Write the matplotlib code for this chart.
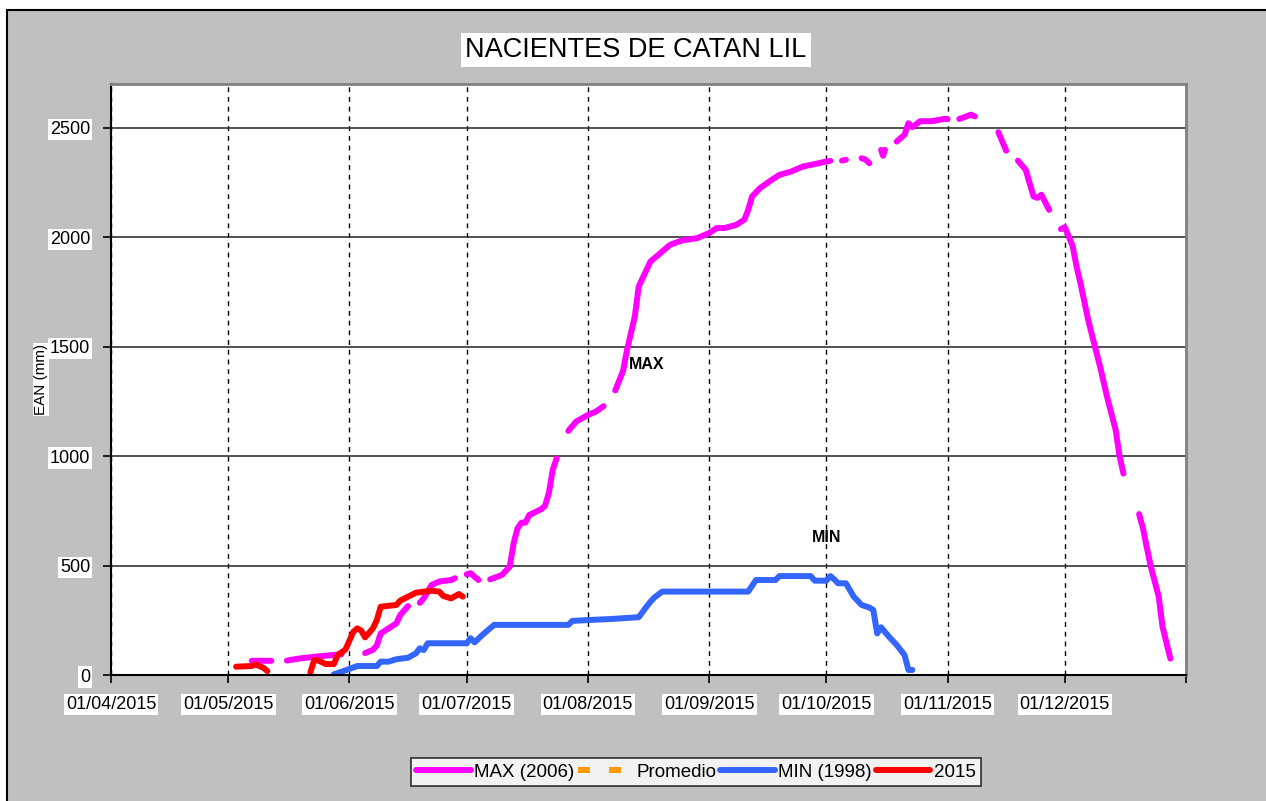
import numpy as np
import pandas as pd
import matplotlib
matplotlib.use('Agg')
import matplotlib.pyplot as plt
from matplotlib.patches import Rectangle

nan = np.nan

# MAX (2006) - gaps (nan) are missing days in the record
max_dates = ['2015-05-07', '2015-05-12', '2015-05-14', '2015-05-16', '2015-05-19', '2015-05-24', '2015-05-30', '2015-06-01',
             '2015-06-05', '2015-06-07', '2015-06-08', '2015-06-09', '2015-06-11', '2015-06-13', '2015-06-14', '2015-06-16', '2015-06-17',
             '2015-06-19', '2015-06-20', '2015-06-22', '2015-06-24', '2015-06-27', '2015-06-28', '2015-06-29',
             '2015-07-01', '2015-07-02', '2015-07-03', '2015-07-04', '2015-07-05',
             '2015-07-07', '2015-07-10', '2015-07-12', '2015-07-13', '2015-07-14', '2015-07-15', '2015-07-16', '2015-07-17',
             '2015-07-20', '2015-07-21', '2015-07-22', '2015-07-23', '2015-07-24', '2015-07-25',
             '2015-07-27', '2015-07-29', '2015-08-01', '2015-08-03', '2015-08-05', '2015-08-06',
             '2015-08-08', '2015-08-10', '2015-08-11', '2015-08-13', '2015-08-14', '2015-08-16', '2015-08-17', '2015-08-20',
             '2015-08-22', '2015-08-25', '2015-08-29', '2015-09-01', '2015-09-03', '2015-09-05', '2015-09-08', '2015-09-10',
             '2015-09-11', '2015-09-12', '2015-09-14', '2015-09-17', '2015-09-19', '2015-09-22', '2015-09-25', '2015-09-28',
             '2015-10-01', '2015-10-02', '2015-10-03',
             '2015-10-05', '2015-10-06', '2015-10-07',
             '2015-10-10', '2015-10-11', '2015-10-12', '2015-10-13',
             '2015-10-15 00:00', '2015-10-15 12:00', '2015-10-16 00:00', '2015-10-17',
             '2015-10-19', '2015-10-21', '2015-10-22', '2015-10-23', '2015-10-25', '2015-10-28', '2015-10-31', '2015-11-01', '2015-11-02',
             '2015-11-04', '2015-11-07', '2015-11-08', '2015-11-10',
             '2015-11-14', '2015-11-16', '2015-11-17',
             '2015-11-19', '2015-11-21', '2015-11-22', '2015-11-23', '2015-11-24', '2015-11-25', '2015-11-26', '2015-11-27', '2015-11-28',
             '2015-11-30', '2015-12-01', '2015-12-03', '2015-12-04', '2015-12-05', '2015-12-07', '2015-12-10', '2015-12-12',
             '2015-12-14', '2015-12-15', '2015-12-16', '2015-12-17',
             '2015-12-20', '2015-12-21', '2015-12-22', '2015-12-23', '2015-12-25', '2015-12-26', '2015-12-28']
max_vals = [65, 65, nan, 66, 75, 85, 95, nan,
            100, 115, 135, 190, 213, 236, 274, 315, nan,
            330, 350, 411, 427, 434, 442, nan,
            460, 465, 449, 434, nan,
            437, 457, 495, 602, 670, 696, 696, 731, 757, 772, 830, 937, 990, nan,
            1115, 1158, 1188, 1203, 1228, nan,
            1300, 1390, 1485, 1638, 1775, 1851, 1889, 1935, 1965, 1985, 1996, 2019, 2042, 2042, 2057, 2080,
            2125, 2186, 2224, 2262, 2285, 2300, 2323, 2334, 2346, 2349, nan,
            2350, 2354, nan,
            2361, 2355, 2338, nan,
            2399, 2372, 2399, nan,
            2437, 2468, 2521, 2503, 2530, 2530, 2540, 2540, nan,
            2540, 2560, 2552, nan,
            2480, 2395, nan,
            2350, 2308, 2247, 2186, 2180, 2194, 2160, 2125, nan,
            2037, 2046, 1960, 1866, 1790, 1620, 1410, 1257, 1120, 1000, 920, nan,
            735, 670, 580, 495, 360, 220, 75]

# MIN (1998)
min_dates = ['2015-05-28', '2015-05-30', '2015-06-03', '2015-06-08', '2015-06-09', '2015-06-11', '2015-06-13', '2015-06-16',
             '2015-06-18', '2015-06-19', '2015-06-20', '2015-06-21', '2015-07-01', '2015-07-02', '2015-07-03', '2015-07-05',
             '2015-07-08', '2015-07-27', '2015-07-28', '2015-08-01', '2015-08-07', '2015-08-14', '2015-08-16', '2015-08-17',
             '2015-08-18', '2015-08-20', '2015-09-11', '2015-09-13', '2015-09-18', '2015-09-19', '2015-09-27', '2015-09-28',
             '2015-10-01', '2015-10-02', '2015-10-03', '2015-10-04', '2015-10-06', '2015-10-08', '2015-10-10', '2015-10-12',
             '2015-10-13', '2015-10-14', '2015-10-15', '2015-10-17', '2015-10-19', '2015-10-21', '2015-10-22', '2015-10-23']
min_vals = [3, 15, 41, 41, 61, 61, 72, 79, 99, 122, 114, 145, 145, 168, 149, 183,
            229, 229, 247, 251, 256, 264, 312, 335, 354, 381, 381, 434, 434, 452, 452, 431,
            431, 452, 437, 419, 419, 358, 320, 308, 297, 190, 218, 175, 137, 91, 23, 23]

# 2015
y15_dates = ['2015-05-03', '2015-05-07', '2015-05-08', '2015-05-10', '2015-05-11', '2015-05-16', '2015-05-22', '2015-05-23',
             '2015-05-24', '2015-05-26', '2015-05-28', '2015-05-29', '2015-05-31', '2015-06-02', '2015-06-03', '2015-06-04',
             '2015-06-05', '2015-06-07', '2015-06-08', '2015-06-09', '2015-06-13', '2015-06-14', '2015-06-16', '2015-06-18',
             '2015-06-22', '2015-06-24', '2015-06-25', '2015-06-27', '2015-06-29', '2015-06-30']
y15_vals = [38, 41, 48, 33, 18, nan, 12, 69, 66, 50, 50, 91, 117, 198, 213, 203,
            172, 213, 251, 312, 320, 340, 358, 376, 385, 381, 361, 350, 370, 358]

y_ticks = [0, 500, 1000, 1500, 2000, 2500]

plt.rcParams['font.family'] = ['Liberation Sans', 'DejaVu Sans']

W, H = 1266, 801
fig = plt.figure(figsize=(W / 100, H / 100), dpi=100, facecolor='white')
fig.patches.append(Rectangle((7 / W, -0.01), 1.05, 1 - 10 / H + 0.01, transform=fig.transFigure,
                             facecolor='#C0C0C0', edgecolor='black', lw=1.5, zorder=-10))

ax = fig.add_axes([111 / W, 1 - 675 / H, (1186 - 111) / W, (675 - 84) / H])
ax.set_facecolor('white')

lw = 4.3
kw = dict(lw=lw, solid_capstyle='round', solid_joinstyle='round')
ax.plot(pd.to_datetime(max_dates, format='ISO8601'), max_vals, color='#FF00FF', label='MAX (2006)', **kw)
ax.plot([], [], color='#FF9900', lw=lw, ls=(0, (2.0, 3.2)), label='Promedio')
ax.plot(pd.to_datetime(min_dates), min_vals, color='#3366FF', label='MIN (1998)', **kw)
ax.plot(pd.to_datetime(y15_dates), y15_vals, color='#FF0000', label='2015', **kw)

ax.text(pd.Timestamp('2015-08-16'), 1420, 'MAX', fontsize=11.5, fontweight='bold', ha='center', va='center')
ax.text(pd.Timestamp('2015-10-01'), 626, 'MIN', fontsize=11.5, fontweight='bold', ha='center', va='center')

months = pd.date_range('2015-04-01', '2016-01-01', freq='MS')
ax.set_xlim(months[0], months[-1])
ax.set_ylim(0, 2700)
ax.set_xticks(months)
ax.set_xticklabels([m.strftime('%d/%m/%Y') for m in months[:-1]] + [''])
ax.set_yticks(y_ticks)
ax.set_yticklabels([str(v) for v in y_ticks])

ax.xaxis.grid(True, color='black', lw=1, ls=(0, (3.5, 3.5)))
ax.yaxis.grid(True, color='#333333', lw=1.2)
ax.set_axisbelow(True)

ax.tick_params(direction='out', length=6, width=1.2, labelsize=13, pad=9, color='black')
for lab in ax.get_xticklabels() + ax.get_yticklabels():
    lab.set_bbox(dict(facecolor='white', edgecolor='none', pad=1.5))

for side in ['left', 'bottom']:
    ax.spines[side].set_color('black')
    ax.spines[side].set_linewidth(1.5)
for side in ['top', 'right']:
    ax.spines[side].set_color('#808080')
    ax.spines[side].set_linewidth(2)

ax.set_ylabel('EAN (mm)', fontsize=11, bbox=dict(facecolor='white', edgecolor='none', pad=1))
ax.yaxis.set_label_coords((48 - 111) / (1186 - 111), 0.5)

fig.text(636 / W, 1 - 50 / H, 'NACIENTES DE CATAN LIL', ha='center', va='center', fontsize=19.5,
         bbox=dict(facecolor='white', edgecolor='none', pad=3))

leg = fig.legend(loc='center', bbox_to_anchor=(696 / W, 1 - 772 / H), ncol=4, frameon=True, fancybox=False,
                 edgecolor='black', fontsize=13.5, handlelength=2.9, columnspacing=0.2, handletextpad=0.2,
                 borderpad=0.3, borderaxespad=0)
leg.get_frame().set_linewidth(1.2)

fig.savefig('out.png', dpi=100, facecolor=fig.get_facecolor())
